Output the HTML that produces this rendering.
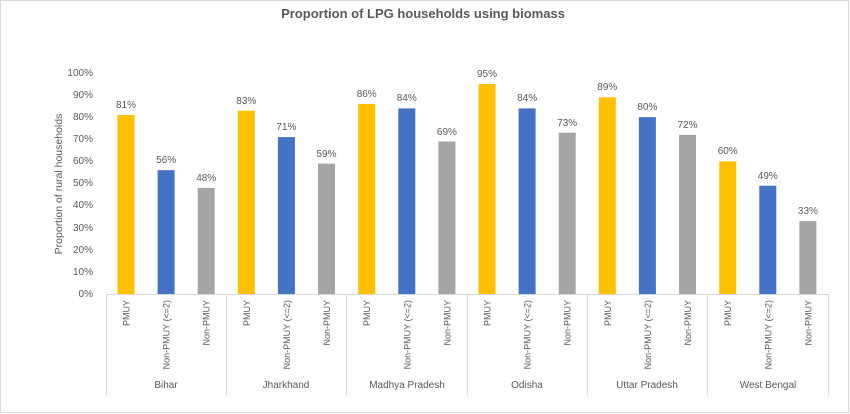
<!DOCTYPE html>
<html><head><meta charset="utf-8"><style>
html,body{margin:0;padding:0;background:#fff;}
svg{display:block;font-family:"Liberation Sans",sans-serif;}
</style></head><body>
<svg width="850" height="414" viewBox="0 0 850 414" xmlns="http://www.w3.org/2000/svg">
<rect x="0.5" y="0.5" width="848" height="412" fill="#fff" stroke="#d9d9d9"/>
<text x="423" y="18" text-anchor="middle" font-size="13" font-weight="bold" fill="#595959">Proportion of LPG households using biomass</text>
<g font-size="10" fill="#595959" text-anchor="end">
<text x="93" y="297">0%</text><text x="93" y="275">10%</text><text x="93" y="253">20%</text><text x="93" y="231">30%</text><text x="93" y="208">40%</text><text x="93" y="186">50%</text><text x="93" y="164">60%</text><text x="93" y="142">70%</text><text x="93" y="120">80%</text><text x="93" y="98">90%</text><text x="93" y="76">100%</text>
</g>
<text transform="translate(62,184) rotate(-90)" text-anchor="middle" font-size="10.5" fill="#595959">Proportion of rural households</text>
<g stroke="#d9d9d9" stroke-width="1">
<line x1="106" y1="294.5" x2="828" y2="294.5"/>
<line x1="106.5" y1="294" x2="106.5" y2="395"/>
<line x1="226.5" y1="294" x2="226.5" y2="395"/>
<line x1="346.5" y1="294" x2="346.5" y2="395"/>
<line x1="467.5" y1="294" x2="467.5" y2="395"/>
<line x1="587.5" y1="294" x2="587.5" y2="395"/>
<line x1="707.5" y1="294" x2="707.5" y2="395"/>
<line x1="828.5" y1="294" x2="828.5" y2="395"/>
</g>
<g>
<rect x="117.5" y="115" width="17" height="179" fill="#ffc000"/>
<rect x="157.6" y="170.2" width="17" height="123.8" fill="#4472c4"/>
<rect x="197.7" y="187.9" width="17" height="106.1" fill="#a5a5a5"/>
<rect x="237.8" y="110.6" width="17" height="183.4" fill="#ffc000"/>
<rect x="277.9" y="137.1" width="17" height="156.9" fill="#4472c4"/>
<rect x="318" y="163.6" width="17" height="130.4" fill="#a5a5a5"/>
<rect x="358.2" y="103.9" width="17" height="190.1" fill="#ffc000"/>
<rect x="398.3" y="108.4" width="17" height="185.6" fill="#4472c4"/>
<rect x="438.4" y="141.5" width="17" height="152.5" fill="#a5a5a5"/>
<rect x="478.5" y="84" width="17" height="210" fill="#ffc000"/>
<rect x="518.6" y="108.4" width="17" height="185.6" fill="#4472c4"/>
<rect x="558.7" y="132.7" width="17" height="161.3" fill="#a5a5a5"/>
<rect x="598.8" y="97.3" width="17" height="196.7" fill="#ffc000"/>
<rect x="638.9" y="117.2" width="17" height="176.8" fill="#4472c4"/>
<rect x="679" y="134.9" width="17" height="159.1" fill="#a5a5a5"/>
<rect x="719.2" y="161.4" width="17" height="132.6" fill="#ffc000"/>
<rect x="759.3" y="185.7" width="17" height="108.3" fill="#4472c4"/>
<rect x="799.4" y="221.1" width="17" height="72.9" fill="#a5a5a5"/>
</g>
<g font-size="10" fill="#595959" text-anchor="middle">
<text x="126" y="108">81%</text><text x="166.1" y="163">56%</text><text x="206.2" y="181">48%</text>
<text x="246.3" y="104">83%</text><text x="286.4" y="130">71%</text><text x="326.5" y="157">59%</text>
<text x="366.7" y="97">86%</text><text x="406.8" y="101">84%</text><text x="446.9" y="135">69%</text>
<text x="487" y="77">95%</text><text x="527.1" y="101">84%</text><text x="567.2" y="126">73%</text>
<text x="607.3" y="90">89%</text><text x="647.4" y="110">80%</text><text x="687.5" y="128">72%</text>
<text x="727.7" y="154">60%</text><text x="767.8" y="179">49%</text><text x="807.9" y="214">33%</text>
</g>
<g font-size="9" fill="#595959" text-anchor="end">
<text transform="translate(129.5,300) rotate(-90)">PMUY</text>
<text transform="translate(169.6,300) rotate(-90)">Non-PMUY (&lt;=2)</text>
<text transform="translate(209.7,300) rotate(-90)">Non-PMUY</text>
<text transform="translate(249.8,300) rotate(-90)">PMUY</text>
<text transform="translate(289.9,300) rotate(-90)">Non-PMUY (&lt;=2)</text>
<text transform="translate(330,300) rotate(-90)">Non-PMUY</text>
<text transform="translate(370.2,300) rotate(-90)">PMUY</text>
<text transform="translate(410.3,300) rotate(-90)">Non-PMUY (&lt;=2)</text>
<text transform="translate(450.4,300) rotate(-90)">Non-PMUY</text>
<text transform="translate(490.5,300) rotate(-90)">PMUY</text>
<text transform="translate(530.6,300) rotate(-90)">Non-PMUY (&lt;=2)</text>
<text transform="translate(570.7,300) rotate(-90)">Non-PMUY</text>
<text transform="translate(610.8,300) rotate(-90)">PMUY</text>
<text transform="translate(650.9,300) rotate(-90)">Non-PMUY (&lt;=2)</text>
<text transform="translate(691,300) rotate(-90)">Non-PMUY</text>
<text transform="translate(731.2,300) rotate(-90)">PMUY</text>
<text transform="translate(771.3,300) rotate(-90)">Non-PMUY (&lt;=2)</text>
<text transform="translate(811.4,300) rotate(-90)">Non-PMUY</text>
</g>
<g font-size="10" fill="#595959" text-anchor="middle">
<text x="166" y="388">Bihar</text><text x="286" y="388">Jharkhand</text><text x="407" y="388">Madhya Pradesh</text><text x="527" y="388">Odisha</text><text x="647" y="388">Uttar Pradesh</text><text x="768" y="388">West Bengal</text>
</g>
</svg>
</body></html>
